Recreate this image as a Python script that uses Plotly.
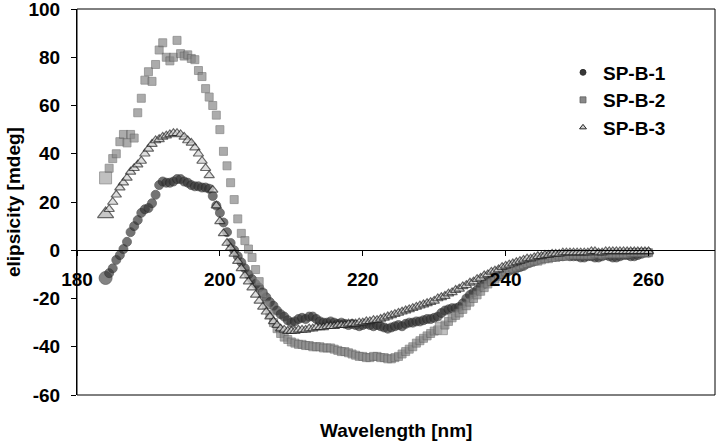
import plotly.graph_objects as go

# ---------------- data ----------------
wavelength = [
    184.0, 184.5, 185.0, 185.5, 186.0, 186.5, 187.0, 187.5, 188.0, 188.5,
    189.0, 189.5, 190.0, 190.5, 191.0, 191.5, 192.0, 192.5, 193.0, 193.5,
    194.0, 194.5, 195.0, 195.5, 196.0, 196.5, 197.0, 197.5, 198.0, 198.5,
    199.0, 199.5, 200.0, 200.5, 201.0, 201.5, 202.0, 202.5, 203.0, 203.5,
    204.0, 204.5, 205.0, 205.5, 206.0, 206.5, 207.0, 207.5, 208.0, 208.5,
    209.0, 209.5, 210.0, 210.5, 211.0, 211.5, 212.0, 212.5, 213.0, 213.5,
    214.0, 214.5, 215.0, 215.5, 216.0, 216.5, 217.0, 217.5, 218.0, 218.5,
    219.0, 219.5, 220.0, 220.5, 221.0, 221.5, 222.0, 222.5, 223.0, 223.5,
    224.0, 224.5, 225.0, 225.5, 226.0, 226.5, 227.0, 227.5, 228.0, 228.5,
    229.0, 229.5, 230.0, 230.5, 231.0, 231.5, 232.0, 232.5, 233.0, 233.5,
    234.0, 234.5, 235.0, 235.5, 236.0, 236.5, 237.0, 237.5, 238.0, 238.5,
    239.0, 239.5, 240.0, 240.5, 241.0, 241.5, 242.0, 242.5, 243.0, 243.5,
    244.0, 244.5, 245.0, 245.5, 246.0, 246.5, 247.0, 247.5, 248.0, 248.5,
    249.0, 249.5, 250.0, 250.5, 251.0, 251.5, 252.0, 252.5, 253.0, 253.5,
    254.0, 254.5, 255.0, 255.5, 256.0, 256.5, 257.0, 257.5, 258.0, 258.5,
    259.0, 259.5, 260.0,
]

sp_b_1 = [
    -11.5, -9.5, -7.5, -4, -2, 0.5, 3.5, 7.5, 10, 12.5,
    15.5, 17, 17.5, 19.5, 23, 27, 28.5, 28, 28, 28.5,
    29.5, 29.5, 28.5, 28, 27, 26.5, 26.5, 26, 26, 25.5,
    22.5, 18.5, 15.5, 11.5, 7.5, 3, 0, -2.5, -5, -7.5,
    -10, -12, -14, -15.5, -17.5, -19.5, -21.5, -23, -25, -26.5,
    -27.5, -29, -30, -29.5, -28.5, -28, -28.5, -27.5, -27.5, -28.5,
    -29.5, -30, -30, -29.5, -30, -30.5, -30, -30.5, -31, -30.5,
    -31, -31.5, -31, -30.5, -31, -31.5, -31, -31.5, -32, -32.5,
    -32, -31.5, -31, -31.5, -30.5, -30, -30, -29.5, -29.5, -29,
    -28.5, -28.5, -28, -27.5, -26, -25, -24.5, -24, -24, -23.5,
    -22, -20, -18.5, -17.5, -16.5, -15, -14, -13, -12, -11,
    -10.5, -10, -9, -8.5, -8, -7.5, -7, -6.5, -5.5, -5,
    -4.5, -4, -3.5, -3, -3, -2.5, -2.5, -2.5, -2.5, -2,
    -2.5, -2.5, -2.5, -3, -3, -2.5, -2.5, -3, -3, -2.5,
    -2, -2.5, -3, -3, -2.5, -2, -2, -2.5, -2.5, -2,
    -1.5, -1, -1,
]

sp_b_2 = [
    30, 34, 38, 40, 45, 48, 44.5, 48, 46.5, 57,
    63, 70.5, 74, 70, 77, 83, 86, 80, 78.5, 80,
    87, 81.5, 80.5, 81, 79.5, 79, 74.5, 72, 67, 63.5,
    60, 56, 50, 41, 35, 28, 21, 13, 7, 4,
    0.5, -3, -8, -13, -18, -22.5, -26.5, -30, -32.5, -34.5,
    -36, -37, -38, -38.5, -39, -39, -39.5, -39.5, -40, -40,
    -40, -40.5, -40.5, -40.5, -41, -41.5, -42, -42, -42.5, -43,
    -43.5, -44, -44, -44.5, -44.5, -44, -44, -44.5, -44.5, -45,
    -45, -44.5, -44, -43, -42, -41, -40, -38.5, -37.5, -36.5,
    -35.5, -34.5, -33.5, -33, -32.5, -31, -29.5, -28, -27, -26,
    -24.5, -23, -21.5, -20, -18.5, -17, -15.5, -14, -13, -12,
    -11, -10, -9, -8, -7.5, -7, -6.5, -6, -5.5, -5,
    -4.5, -4.5, -4, -3.5, -3.5, -3, -3, -2.5, -2.5, -2.5,
    -2, -2, -2, -2, -2, -2, -2, -1.5, -1.5, -2,
    -1.5, -1.5, -1.5, -1.5, -1.5, -1.5, -1.5, -1, -1, -1,
    -1, -1, -1,
]

sp_b_3 = [
    15, 17, 20, 23, 26, 28, 30, 32.5, 34, 35.5,
    37, 40, 42, 44, 45.5, 46, 47, 47.5, 48, 48.5,
    48.5, 48, 47, 45.5, 44.5, 42.5, 40, 37, 34, 31,
    25, 18.5, 12, 7, 3, 1, -1.5, -4.5, -7.5, -10.5,
    -13, -15.5, -18.5, -21, -23.5, -25.5, -27.5, -29.5, -31, -32.5,
    -33, -33.5, -33.5, -33.5, -33, -33, -33, -32.5, -32.5, -32,
    -32, -32, -31.5, -31.5, -31.5, -31, -31, -31, -30.5, -30.5,
    -30.5, -30, -30, -29.5, -29.5, -29, -29, -28.5, -28, -27.5,
    -27, -26.5, -26, -25.5, -25, -24.5, -24, -23.5, -23, -22.5,
    -22, -21.5, -21, -20, -19.5, -19, -18, -17.5, -16.5, -16,
    -15, -14.5, -13.5, -13, -12, -11.5, -10.5, -10, -9, -8.5,
    -8, -7, -6.5, -6, -5.5, -5, -4.5, -4, -3.5, -3.5,
    -3, -2.5, -2.5, -2, -2, -1.5, -1.5, -1.5, -1, -1,
    -1, -1, -1, -1, -1, -1, -0.5, -0.5, -1, -1,
    -0.5, -0.5, -0.5, -0.5, -0.5, -0.5, -0.5, -0.5, -0.5, -0.5,
    -0.5, -0.5, -0.5,
]

series_names = ["SP-B-1", "SP-B-2", "SP-B-3"]
x_ticks = [180, 200, 220, 240, 260]
y_ticks = [-60, -40, -20, 0, 20, 40, 60, 80, 100]
highlight_wavelength = 231.0  # enlarged square on SP-B-2

# ---------------- styling ----------------
FONT = "Arial, 'Liberation Sans', sans-serif"
n = len(wavelength)
PLOT_L, PLOT_R, PLOT_T, PLOT_B = 77, 715, 9, 395


def px_to_paper_x(px):
    return (px - PLOT_L) / (PLOT_R - PLOT_L)


def px_to_paper_y(py):
    return (PLOT_B - py) / (PLOT_B - PLOT_T)


def sizes(base, big, extra=None):
    s = [base] * n
    s[0] = big
    if extra is not None:
        s[wavelength.index(extra)] = big
    return s


def colors(base, big_col, extra=None):
    c = [base] * n
    c[0] = big_col
    if extra is not None:
        c[wavelength.index(extra)] = big_col
    return c


styles = [
    dict(symbol="circle", size=sizes(9, 13), color=colors("#383838", "#505050"),
         line=dict(color="#262626", width=0.8)),
    dict(symbol="square", size=sizes(8, 12, highlight_wavelength),
         color=colors("#888888", "#a6a6a6", highlight_wavelength),
         line=dict(color="#606060", width=0.8)),
    dict(symbol="triangle-up", size=sizes(9, 14), color=colors("#d0d0d0", "#b0b0b0"),
         line=dict(color="#262626", width=1.2)),
]
legend_styles = [
    dict(symbol="circle", size=6, color="#383838", line=dict(color="#262626", width=0.8)),
    dict(symbol="square", size=6, color="#888888", line=dict(color="#606060", width=0.8)),
    dict(symbol="triangle-up", size=6, color="#d0d0d0", line=dict(color="#262626", width=1)),
]
legend_ids = ["legend", "legend2", "legend3"]
legend_rows_px = [72.5, 100, 127.5]

fig = go.Figure()
for name, vals, st in zip(series_names, [sp_b_1, sp_b_2, sp_b_3], styles):
    fig.add_trace(go.Scatter(x=wavelength, y=vals, mode="markers", name=name,
                             marker=st, showlegend=False, hoverinfo="x+y"))
for name, st, lid in zip(series_names, legend_styles, legend_ids):
    fig.add_trace(go.Scatter(x=[None], y=[None], mode="markers", name=name,
                             marker=st, showlegend=True, legend=lid))

legend_common = dict(xanchor="left", yanchor="middle", bgcolor="rgba(0,0,0,0)", borderwidth=0,
                     font=dict(family=FONT, size=19, color="black", weight="bold"),
                     itemwidth=30)
legend_layout = {
    lid: dict(x=px_to_paper_x(563), y=px_to_paper_y(row), **legend_common)
    for lid, row in zip(legend_ids, legend_rows_px)
}

fig.update_layout(
    width=720, height=442,
    margin=dict(l=PLOT_L, r=720 - PLOT_R, t=PLOT_T, b=442 - PLOT_B, autoexpand=False),
    paper_bgcolor="white", plot_bgcolor="white",
    font=dict(family=FONT, color="black", size=19),
    showlegend=True,
    xaxis=dict(range=[180, 269.3], tickvals=x_ticks, ticktext=[str(t) for t in x_ticks],
               showgrid=False, zeroline=False, showline=True, linecolor="black", linewidth=1,
               ticks="outside", ticklen=5, tickcolor="black", tickwidth=1,
               anchor="free", position=0.375, ticklabelstandoff=7, automargin=False,
               ticklabeloverflow="allow",
               tickfont=dict(family=FONT, size=19, color="black", weight="bold")),
    yaxis=dict(range=[-60, 100.001], tickvals=y_ticks, ticktext=[str(t) for t in y_ticks],
               showgrid=False, zeroline=False, showline=True, linecolor="black", linewidth=1,
               ticks="outside", ticklen=5, tickcolor="black", tickwidth=1,
               ticklabelstandoff=7, automargin=False, ticklabeloverflow="allow",
               tickfont=dict(family=FONT, size=19, color="black", weight="bold")),
    shapes=[dict(type="rect", xref="paper", yref="paper", x0=0, x1=1, y0=0, y1=1,
                 line=dict(color="black", width=1), fillcolor="rgba(0,0,0,0)", layer="above")],
    annotations=[
        dict(text="<b>elipsicity [mdeg]</b>", xref="paper", yref="paper",
             x=px_to_paper_x(13), y=0.5, xanchor="center", yanchor="middle",
             textangle=-90, showarrow=False, font=dict(family=FONT, size=19, color="black")),
        dict(text="<b>Wavelength [nm]</b>", xref="paper", yref="paper",
             x=0.5, y=px_to_paper_y(430), xanchor="center", yanchor="middle",
             showarrow=False, font=dict(family=FONT, size=19, color="black")),
    ],
    **legend_layout,
)

fig.write_html("out.html", config={"displayModeBar": False},
               post_script="document.body.style.margin='0';document.body.style.padding='0';")
